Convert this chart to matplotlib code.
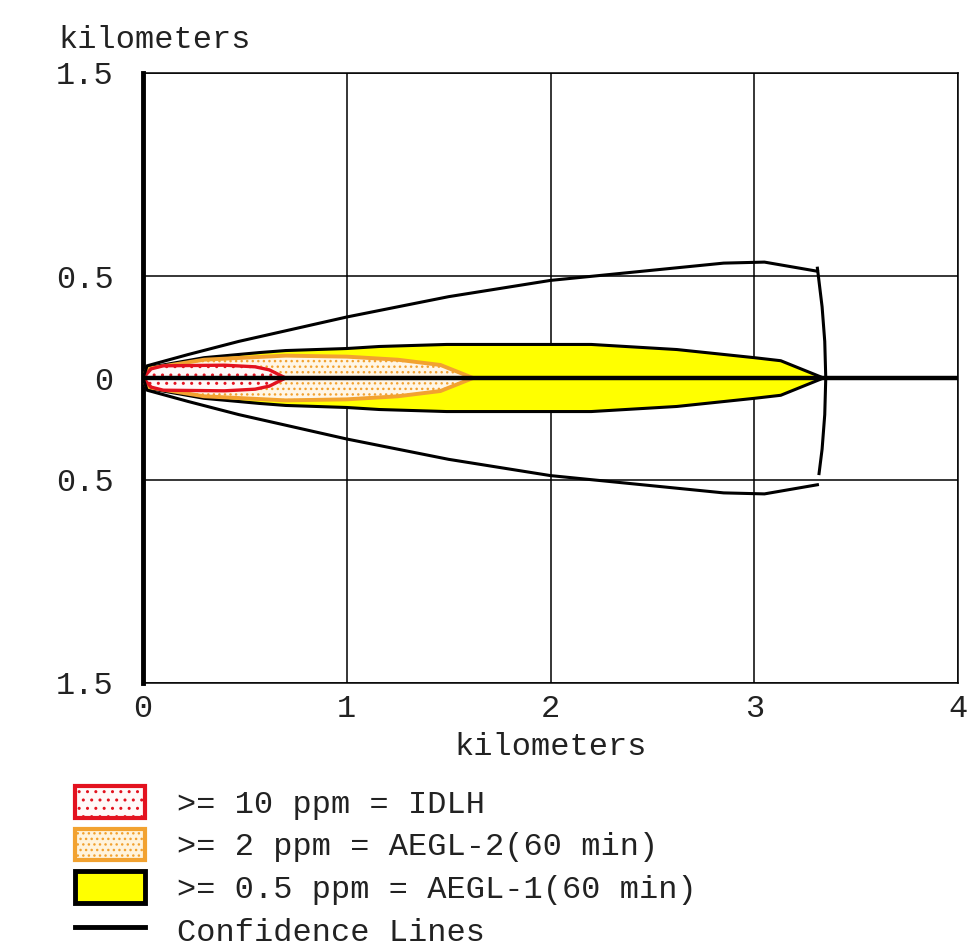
import numpy as np
import matplotlib
matplotlib.use("Agg")
import matplotlib.pyplot as plt
from matplotlib.patches import Patch
from matplotlib.lines import Line2D

plt.rcParams['font.family'] = ['Liberation Mono', 'DejaVu Sans Mono']
plt.rcParams['hatch.linewidth'] = 1.0

# threat zones, upper half (plume is symmetric about the centerline)
aegl1_x = np.array([0, 0.02, 0.3, 0.57, 0.7, 1.0, 1.16, 1.49, 2.2, 2.62, 3.0, 3.13, 3.34])
aegl1_y = np.array([0, 0.05, 0.10, 0.125, 0.135, 0.145, 0.155, 0.165, 0.165, 0.14, 0.10, 0.085, 0.0])

aegl2_x = np.array([0, 0.02, 0.3, 0.7, 1.0, 1.25, 1.46, 1.62])
aegl2_y = np.array([0, 0.045, 0.09, 0.11, 0.105, 0.09, 0.064, 0.0])

idlh_x = np.array([0, 0.04, 0.1, 0.4, 0.55, 0.62, 0.70])
idlh_y = np.array([0, 0.045, 0.06, 0.063, 0.055, 0.04, 0.0])

# confidence lines
conf_x = np.array([0, 0.02, 0.22, 0.47, 1.0, 1.5, 2.0, 2.5, 2.85, 3.05, 3.31])
conf_y = np.array([0, 0.06, 0.115, 0.18, 0.30, 0.40, 0.48, 0.53, 0.565, 0.57, 0.525])
arc_x = [3.31, 3.333, 3.346, 3.351, 3.346, 3.333, 3.318]
arc_y = [0.54, 0.35, 0.18, 0.0, -0.18, -0.35, -0.47]

x_ticks = [0, 1, 2, 3, 4]
y_ticks = [1.5, 0.5, 0, -0.5, -1.5]
y_tick_labels = ['1.5', '0.5', '0', '0.5', '1.5']

legend_labels = [">= 10 ppm = IDLH",
                 ">= 2 ppm = AEGL-2(60 min)",
                 ">= 0.5 ppm = AEGL-1(60 min)",
                 "Confidence Lines"]

RED = '#e3121f'
ORANGE = '#f2a230'
YELLOW = '#ffff00'
FS = 23


def band(x, y):
    return np.concatenate([x, x[::-1]]), np.concatenate([y, -y[::-1]])


fig = plt.figure(figsize=(9.69, 9.5), dpi=100)
ax = fig.add_axes([143 / 969, (950 - 683) / 950, 815 / 969, 610 / 950])

px, py = band(aegl1_x, aegl1_y)
ax.fill(px, py, facecolor=YELLOW, edgecolor='black', lw=2.2, zorder=2)
px, py = band(aegl2_x, aegl2_y)
ax.fill(px, py, facecolor='#fff6e6', edgecolor=ORANGE, hatch='...', lw=2.8, zorder=3)
px, py = band(idlh_x, idlh_y)
ax.fill(px, py, facecolor='#fff8f8', edgecolor=RED, hatch='..', lw=2.4, zorder=4)

ax.axhline(0, color='black', lw=3.2, zorder=5)
ax.plot(conf_x, conf_y, color='black', lw=2.2, zorder=5)
ax.plot(conf_x, -conf_y, color='black', lw=2.2, zorder=5)
ax.plot(arc_x, arc_y, color='black', lw=2.2, zorder=5)

ax.set_xlim(0, 4)
ax.set_ylim(-1.5, 1.5)
ax.set_xticks(x_ticks)
ax.set_yticks(y_ticks)
ax.set_yticklabels(y_tick_labels)
ax.tick_params(length=0, labelsize=FS, colors='#222222')
ax.tick_params(axis='y', pad=21)
ax.tick_params(axis='x', pad=8)
ax.grid(True, color='black', lw=1.1, zorder=1)
for s in ['top', 'bottom', 'right']:
    ax.spines[s].set_linewidth(1.1)
ax.spines['left'].set_linewidth(3.5)

ax.set_xlabel('kilometers', fontsize=FS, color='#222222')
ax.xaxis.set_label_coords(0.5, -0.080)
fig.text(58 / 969, 1 - 40 / 950, 'kilometers', fontsize=FS, color='#222222',
         ha='left', va='center')

handles = [
    Patch(facecolor='#fff8f8', edgecolor=RED, hatch='..', lw=3),
    Patch(facecolor='#fff3dc', edgecolor=ORANGE, hatch='...', lw=3),
    Patch(facecolor=YELLOW, edgecolor='black', lw=3.5),
    Line2D([], [], color='black', lw=3.5),
]
fig.legend(handles, legend_labels, loc='upper left',
           bbox_to_anchor=(75 / 969, 1 - 786 / 950), bbox_transform=fig.transFigure,
           frameon=False, fontsize=FS, handlelength=2.2, handleheight=1.15,
           handletextpad=1.0, labelspacing=0.28, borderpad=0, borderaxespad=0,
           labelcolor='#222222')

fig.savefig('out.png', dpi=100, facecolor='white')
